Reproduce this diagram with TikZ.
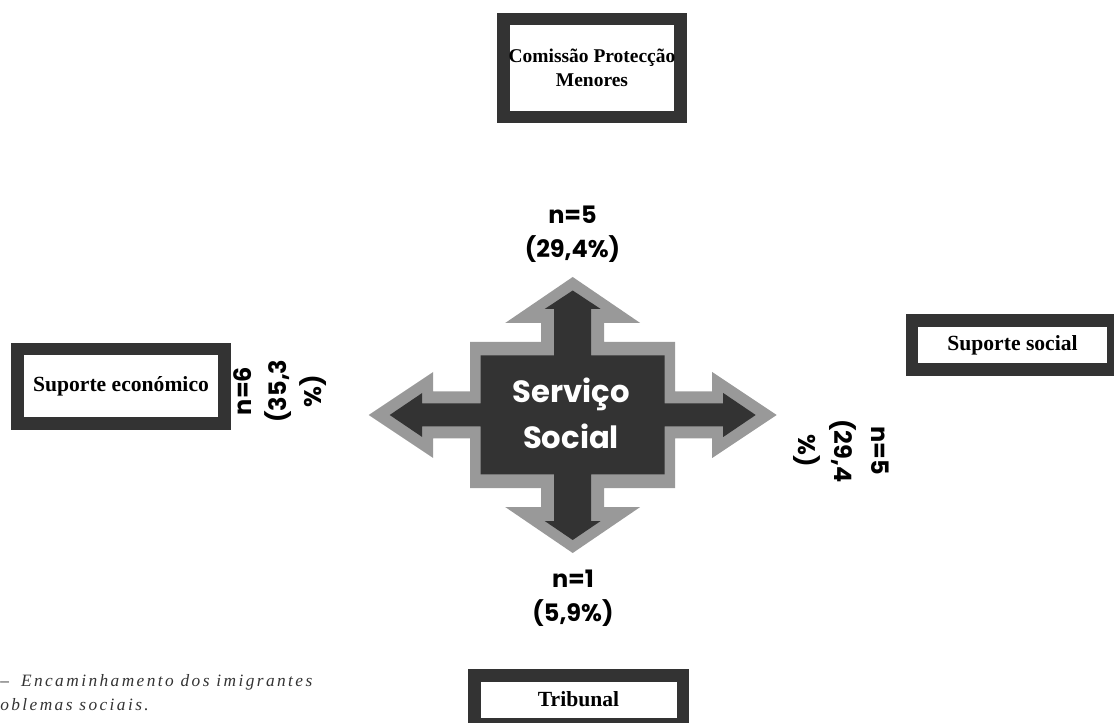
\documentclass[tikz,border=0pt]{standalone}
\usepackage{fontspec}
\setmainfont{Liberation Serif}
\newfontfamily\comicfont{Poppins}
\usepackage{xcolor}
\usepackage{tikz}
\definecolor{escuro}{HTML}{333333}
\definecolor{claro}{HTML}{999999}
\tikzset{caixa/.style={draw=escuro, line width=9.4pt, fill=white, inner sep=0pt,
                       align=center, font=\bfseries\fontsize{16.2}{18}\selectfont},
         rotulo/.style={align=center, inner sep=0pt,
                        font=\comicfont\bfseries\fontsize{18}{25.5}\selectfont}}

\begin{document}
\begin{tikzpicture}[x=0.75pt,y=-0.75pt]
\useasboundingbox (0,0) rectangle (1114,723);
% seta de quatro pontas
\coordinate (ss) at (572.7,415);
\fill[claro,shift={(ss)}] (0,-138)--(67.5,-92)--(31.5,-92)--(31.5,-73)--(102.5,-73)--(102.5,-23.5)
  --(139.5,-23.5)--(139.5,-43)--(204,0)--(139.5,43)--(139.5,23.5)--(102.5,23.5)--(102.5,73)
  --(31.5,73)--(31.5,92)--(67.5,92)--(0,138)--(-67.5,92)--(-31.5,92)--(-31.5,73)--(-102.5,73)
  --(-102.5,23.5)--(-139.5,23.5)--(-139.5,43)--(-204,0)--(-139.5,-43)--(-139.5,-23.5)
  --(-102.5,-23.5)--(-102.5,-73)--(-31.5,-73)--(-31.5,-92)--(-67.5,-92)--cycle;
\fill[escuro,shift={(ss)}] (0,-124.5)--(28,-106)--(18.5,-106)--(18.5,-59.5)--(92,-59.5)--(92,-11.5)
  --(150.5,-11.5)--(150.5,-22)--(183,0)--(150.5,22)--(150.5,11.5)--(92,11.5)--(92,59.5)
  --(18.5,59.5)--(18.5,106)--(28,106)--(0,125)--(-28,106)--(-18.5,106)--(-18.5,59.5)--(-92,59.5)
  --(-92,11.5)--(-150.5,11.5)--(-150.5,22)--(-183,0)--(-150.5,-22)--(-150.5,-11.5)
  --(-92,-11.5)--(-92,-59.5)--(-18.5,-59.5)--(-18.5,-106)--(-28,-106)--cycle;
\node[text=white, align=center, font=\comicfont\bfseries\fontsize{23}{34.5}\selectfont] (servico)
  at (571,413) {Serviço\\Social};
% caixas
\node[caixa, minimum width=132.75pt, minimum height=73.5pt,
      font=\bfseries\fontsize{14.6}{18}\selectfont] (cpm) at (592,68)
  {Comissão Protecção\\Menores};
\node[caixa, minimum width=155.6pt, minimum height=55.9pt] (secon) at (121,386.5)
  {Suporte económico};
\node[caixa, minimum width=151.1pt, minimum height=37.1pt] (ssoc) at (1012.5,345)
  {Suporte social};
\node[caixa, minimum width=156.4pt, minimum height=36.4pt] (trib) at (578.5,699.5)
  {Tribunal};
% valores
\node[rotulo] (ncpm) at (572.5,234) {n=5\\(29,4\%)};
\node[rotulo] (ntrib) at (573,598) {n=1\\(5,9\%)};
\node[rotulo, rotate=90, font=\comicfont\bfseries\fontsize{18}{26}\selectfont] (nsecon)
  at (280,391) {n=6\\(35,3\\\%)};
\node[rotulo, rotate=-90, font=\comicfont\bfseries\fontsize{18}{27.5}\selectfont] (nssoc)
  at (841,451) {n=5\\(29,4\\\%)};
% legenda
\node[anchor=west, align=left, inner sep=0pt, text=escuro,
      font=\itshape\addfontfeature{LetterSpace=14}\fontsize{13}{18}\selectfont] (legenda)
  at (0,693) {–\hspace{4pt} Encaminhamento dos imigrantes\\oblemas sociais.};
\end{tikzpicture}
\end{document}
